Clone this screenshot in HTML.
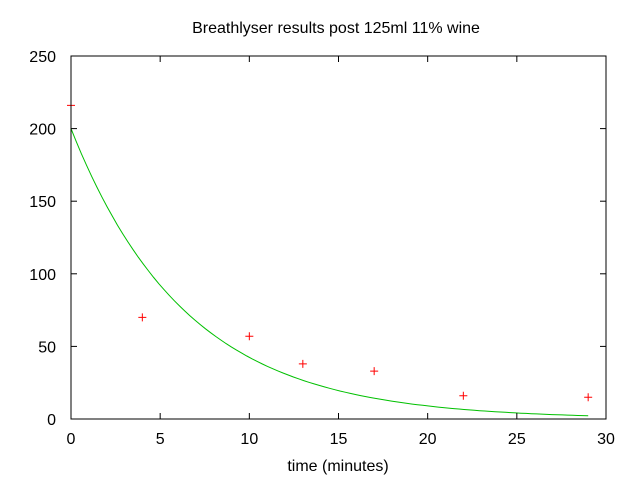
<!DOCTYPE html>
<html><head><meta charset="utf-8"><style>
body{margin:0;background:#fff;}
svg text{font-family:"Liberation Sans","DejaVu Sans",sans-serif;font-size:16px;fill:#000;}
</style></head><body>
<svg id="c" width="640" height="480"></svg>
<script>
const xTicks=[0,5,10,15,20,25,30];
const yTicks=[0,50,100,150,200,250];
const timeVals=[0,4,10,13,17,22,29];
const breathVals=[216,70,57,38,33,16,15];
const fitParams=[200,0.155];
const fitRange=[0,29];
const X0=71,X1=606,Y0=419,Y1=56;
const sx=v=>X0+(v-0)/(30-0)*(X1-X0);
const sy=v=>Y0-(v-0)/(250-0)*(Y0-Y1);
const svg=document.getElementById('c');
const NS='http://www.w3.org/2000/svg';
function mk(t,a,p){const e=document.createElementNS(NS,t);for(const k in a)e.setAttribute(k,a[k]);(p||svg).appendChild(e);return e;}
let t=mk('text',{x:336,y:33,'text-anchor':'middle'});t.textContent='Breathlyser results post 125ml 11% wine';


let d='';
for(let i=0;i<=100;i++){const tv=fitRange[0]+(fitRange[1]-fitRange[0])*i/100;const yv=fitParams[0]*Math.exp(-fitParams[1]*tv);d+=(i?'L':'M')+sx(tv).toFixed(1)+' '+sy(yv).toFixed(1);}
let fl=mk('path',{d:d,fill:'none',stroke:'#00c000','stroke-width':1});


timeVals.forEach((tv,i)=>{const x=sx(tv),y=sy(breathVals[i]);
 const p=mk('path',{d:`M${x-4} ${y}H${x+4}M${x} ${y-4}V${y+4}`,stroke:'#f00','stroke-width':1});
 
 });
let fr=mk('rect',{x:X0,y:Y1,width:X1-X0,height:Y0-Y1,fill:'none',stroke:'#000','stroke-width':1});


xTicks.forEach(v=>{const x=sx(v);
 mk('line',{x1:x,y1:Y0,x2:x,y2:Y0-6,stroke:'#000'});mk('line',{x1:x,y1:Y1,x2:x,y2:Y1+6,stroke:'#000'});
 const l=mk('text',{x:x,y:Y0+25,'text-anchor':'middle'});l.textContent=v;
 
 });
yTicks.forEach(v=>{const y=sy(v);
 mk('line',{x1:X0,y1:y,x2:X0+6,y2:y,stroke:'#000'});mk('line',{x1:X1,y1:y,x2:X1-6,y2:y,stroke:'#000'});
 const l=mk('text',{x:X0-15,y:y+6,'text-anchor':'end'});l.textContent=v;
 
 });
let xt=mk('text',{x:338,y:471,'text-anchor':'middle'});xt.textContent='time (minutes)';


</script>
</body></html>
